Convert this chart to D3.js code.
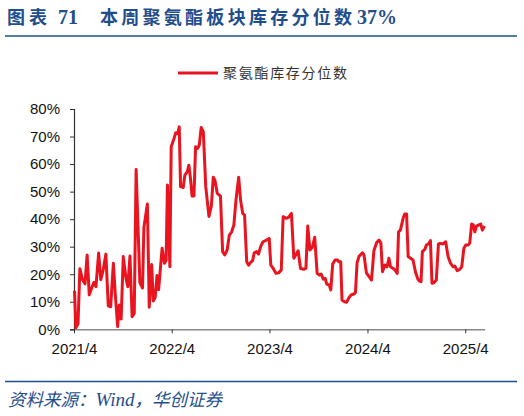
<!DOCTYPE html>
<html>
<head>
<meta charset="utf-8">
<script src="https://cdn.jsdelivr.net/npm/d3@7/dist/d3.min.js"></script>
<style>
  body { margin: 0; background: #fff; }
  svg { display: block; }
</style>
</head>
<body>
<svg id="chart" width="524" height="416"></svg>
<script>
// weekly inventory percentile of the polyurethane sector
const dates = [
  "2021-04-03","2021-04-08","2021-04-16","2021-04-23","2021-05-03","2021-05-12","2021-05-20","2021-05-28",
  "2021-06-06","2021-06-14","2021-06-22","2021-07-02","2021-07-10","2021-07-19","2021-07-29","2021-08-07",
  "2021-08-16","2021-08-26","2021-09-02","2021-09-11","2021-09-17","2021-09-24","2021-10-02","2021-10-12",
  "2021-10-19","2021-10-27","2021-11-04","2021-11-12","2021-11-19","2021-12-03","2021-12-13","2021-12-18",
  "2021-12-31","2022-01-07","2022-01-16","2022-01-22","2022-01-29","2022-02-05","2022-02-11","2022-02-24",
  "2022-03-05","2022-03-11","2022-03-16","2022-03-25","2022-03-30","2022-04-08","2022-04-16","2022-04-23",
  "2022-04-29","2022-05-04","2022-05-14","2022-05-20","2022-05-29","2022-06-04","2022-06-10","2022-06-16",
  "2022-06-23","2022-06-29","2022-07-07","2022-07-13","2022-07-20","2022-07-28","2022-08-06","2022-08-18",
  "2022-08-27","2022-09-03","2022-09-09","2022-09-18","2022-09-30","2022-10-08","2022-10-16","2022-10-25",
  "2022-11-02","2022-11-11","2022-11-19","2022-11-27","2022-12-07","2022-12-14","2022-12-22","2022-12-29",
  "2023-01-06","2023-01-13","2023-01-20","2023-01-28","2023-02-03","2023-02-12","2023-02-19","2023-02-27",
  "2023-03-08","2023-03-21","2023-03-31","2023-04-06","2023-04-15","2023-04-25","2023-05-05","2023-05-15",
  "2023-05-22","2023-06-03","2023-06-12","2023-06-22","2023-07-01","2023-07-08","2023-07-17","2023-07-26",
  "2023-08-07","2023-08-15","2023-08-22","2023-08-30","2023-09-08","2023-09-17","2023-09-26","2023-10-04",
  "2023-10-11","2023-10-19","2023-10-26","2023-11-01","2023-11-10","2023-11-16","2023-11-23","2023-12-02",
  "2023-12-10","2023-12-17","2023-12-23","2023-12-28","2024-01-06","2024-01-14","2024-01-22","2024-01-31",
  "2024-02-10","2024-02-16","2024-02-22","2024-02-29","2024-03-13","2024-03-19","2024-03-28","2024-04-07",
  "2024-04-16","2024-04-25","2024-05-05","2024-05-14","2024-05-21","2024-05-27","2024-06-05","2024-06-13",
  "2024-06-20","2024-06-26","2024-07-06","2024-07-13","2024-07-21","2024-07-26","2024-08-02","2024-08-12",
  "2024-08-18","2024-08-25","2024-08-31","2024-09-09","2024-09-18","2024-09-27","2024-10-05","2024-10-11",
  "2024-10-18","2024-10-23","2024-11-01","2024-11-07","2024-11-15","2024-11-22","2024-11-28","2024-12-05",
  "2024-12-14","2024-12-22","2024-12-29","2025-01-08","2025-01-18","2025-01-27","2025-02-05","2025-02-15",
  "2025-02-21","2025-03-02","2025-03-12","2025-03-19","2025-03-27","2025-04-03","2025-04-12","2025-04-18",
  "2025-04-25","2025-05-01","2025-05-07","2025-05-13","2025-05-22","2025-05-29","2025-06-04","2025-06-12"
];
const values = [
  14, 0.5, 2, 22, 18, 16.5, 27, 12.5,
  15, 17, 15.5, 27.7, 18, 21.5, 27.3, 8.5,
  8.2, 24, 13, 1, 8.8, 3.7, 26.4, 18.6,
  15.5, 26.6, 4.6, 5.8, 58, 17, 15, 37,
  45.5, 8, 23.5, 10.3, 11.5, 19.5, 14.4, 29.4,
  24, 25, 52.4, 22.7, 66.3, 68.8, 71.4, 71,
  73.5, 51.8, 51.5, 56, 57.2, 59.6, 54.8, 48.4,
  48.4, 66.3, 65.7, 67, 73.3, 71.7, 51.8, 41,
  44.8, 55.2, 54.2, 49.4, 48.4, 28.2, 27, 28.8,
  34.2, 35.4, 37.9, 47, 55.2, 47, 42.1, 41.5,
  24.5, 23.3, 24.2, 24.9, 27.8, 28.2, 27.3, 30,
  31.8, 32.4, 33, 23.3, 22.1, 20.3, 20.5, 21.5,
  40.9, 40.3, 40.7, 42.1, 25.8, 27, 28.5, 22.1,
  21.8, 22.1, 37.5, 28.8, 29.8, 33.4, 20.3, 19.7,
  20.1, 18.2, 18.5, 16.4, 16.1, 14.3, 23.7, 25.2,
  25.2, 24.5, 24.5, 10.6, 10, 9.8, 11.3, 12.5,
  12.8, 13.3, 24, 26.4, 27.8, 27, 20.5, 19.1,
  17.9, 28.5, 31.4, 32.4, 31.4, 20.9, 23.3, 22.7,
  25.8, 22.7, 22.1, 21.5, 20.3, 35.4, 36, 40.3,
  41.9, 41.9, 26.4, 25.8, 25.2, 20.9, 18.5, 17.6,
  17.3, 28.2, 29, 30.6, 31, 32.2, 16.7, 16.9,
  17.9, 31, 31.2, 31, 31.8, 26.4, 24, 22.7,
  23, 21.3, 21.8, 22.7, 29.4, 30.6, 30.6, 31.4,
  38.2, 37.9, 35.4, 37.5, 37.9, 38.2, 36, 37.5
];
const seriesName = "聚氨酯库存分位数";
const yTicks = [0, 10, 20, 30, 40, 50, 60, 70, 80];
const xTickDates = ["2021-04-01", "2022-04-01", "2023-04-01", "2024-04-01", "2025-04-01"];
const xTickLabels = ["2021/4", "2022/4", "2023/4", "2024/4", "2025/4"];

const parse = d3.timeParse("%Y-%m-%d");
const data = dates.map((d, i) => ({ date: parse(d), value: values[i] }));

const svg = d3.select("#chart");
const blue = "#1f4e8c";
const red = "#e8141f";
const plot = { left: 74, right: 484.5, top: 109, bottom: 329.3 };

// header
const title = svg.append("text")
    .attr("y", 24)
    .attr("fill", blue)
    .style("font-weight", "bold");
title.append("tspan").attr("x", 7)
    .style("font-family", "'Noto Sans CJK SC'").style("font-size", "18px")
    .attr("textLength", 40).text("图表");
title.append("tspan").attr("x", 58)
    .style("font-family", "'Liberation Serif'").style("font-size", "20px")
    .text("71");
title.append("tspan").attr("x", 100)
    .style("font-family", "'Noto Sans CJK SC'").style("font-size", "18px")
    .attr("textLength", 252).text("本周聚氨酯板块库存分位数");
title.append("tspan").attr("x", 357)
    .style("font-family", "'Liberation Serif'").style("font-size", "20px")
    .text("37%");

svg.append("line")
    .attr("x1", 5).attr("x2", 517).attr("y1", 36).attr("y2", 36)
    .attr("stroke", blue).attr("stroke-width", 1.6);

// legend
svg.append("line")
    .attr("x1", 178).attr("x2", 218).attr("y1", 73).attr("y2", 73)
    .attr("stroke", red).attr("stroke-width", 3);
svg.append("text")
    .attr("x", 223).attr("y", 78)
    .attr("textLength", 124)
    .style("font-family", "'Noto Sans CJK SC'").style("font-size", "14px")
    .attr("fill", "#333").text(seriesName);

// scales
const X = d3.scaleTime()
    .domain([parse("2021-04-01"), parse("2025-06-12")])
    .range([plot.left, plot.right]);
const Y = d3.scaleLinear()
    .domain([0, 80])
    .range([plot.bottom, plot.top]);

// axes
const yAxis = svg.append("g")
    .attr("transform", `translate(${plot.left},0)`)
    .call(d3.axisLeft(Y).tickValues(yTicks).tickSize(4).tickPadding(10)
        .tickFormat(d => d + "%"));
yAxis.select(".domain").attr("stroke", "#333").attr("stroke-width", 1.2);
yAxis.selectAll(".tick line").attr("stroke", "#333");

const xAxis = svg.append("g")
    .attr("transform", `translate(0,${plot.bottom})`)
    .call(d3.axisBottom(X).tickValues(xTickDates.map(parse)).tickSize(4).tickPadding(10)
        .tickFormat((d, i) => xTickLabels[i]).tickSizeOuter(0));
xAxis.select(".domain").attr("stroke", "#888").attr("stroke-width", 1.5);
xAxis.selectAll(".tick line").attr("stroke", "#333");

svg.selectAll(".tick text")
    .style("font-family", "'Liberation Sans', Arial, sans-serif")
    .style("font-size", "15px")
    .attr("fill", "#111");

// series
const line = d3.line()
    .x(d => X(d.date))
    .y(d => Y(d.value));
svg.append("path")
    .datum(data)
    .attr("d", line)
    .attr("fill", "none")
    .attr("stroke", red)
    .attr("stroke-width", 3)
    .attr("stroke-linejoin", "round");

// footer
svg.append("line")
    .attr("x1", 5).attr("x2", 517).attr("y1", 381.5).attr("y2", 381.5)
    .attr("stroke", blue).attr("stroke-width", 1.6);
const src = svg.append("text")
    .attr("x", 8).attr("y", 406)
    .attr("fill", blue)
    .style("font-style", "italic").style("font-size", "17.5px");
src.append("tspan").style("font-family", "'Noto Sans CJK SC'").text("资料来源：");
src.append("tspan").style("font-family", "'Liberation Serif'").style("font-size", "19px").text("Wind");
src.append("tspan").style("font-family", "'Noto Sans CJK SC'").text("，华创证券");
</script>
</body>
</html>
